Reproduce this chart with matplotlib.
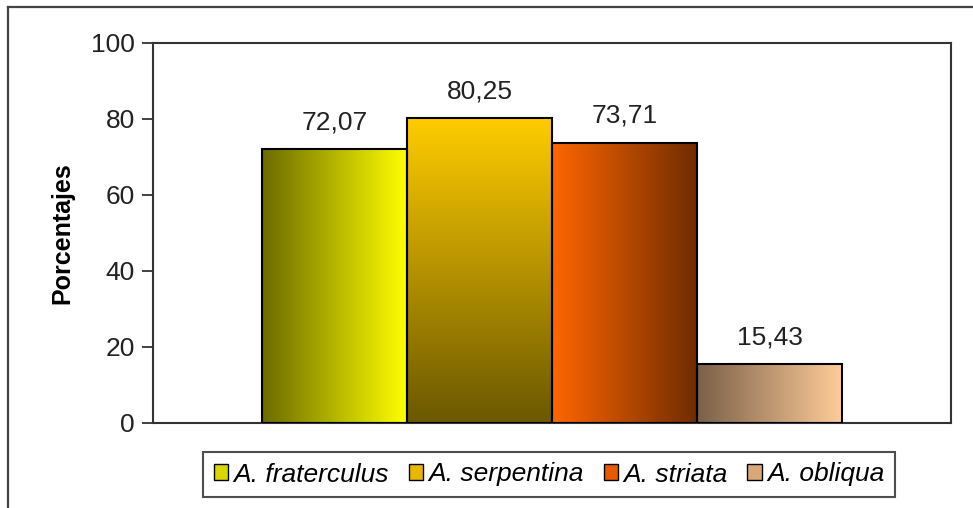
import numpy as np
import matplotlib
matplotlib.use("Agg")
import matplotlib.pyplot as plt
from matplotlib.patches import Rectangle, Patch
from matplotlib.colors import LinearSegmentedColormap
from matplotlib.lines import Line2D

plt.rcParams['font.family'] = ['Liberation Sans', 'DejaVu Sans']

species = ["A. fraterculus", "A. serpentina", "A. striata", "A. obliqua"]
values = [72.07, 80.25, 73.71, 15.43]
labels = ["72,07", "80,25", "73,71", "15,43"]
yticks = [0, 20, 40, 60, 80, 100]

# gradient specs: (start color, end color, direction)
grads = [("#6b6b00", "#ffff00", "h"),
         ("#ffcc00", "#6b5800", "v"),
         ("#ff6600", "#702c00", "h"),
         ("#7a6048", "#ffcc99", "h")]
legend_colors = ["#d8d800", "#e8b800", "#e85a00", "#d8a878"]

W, H = 973, 508
fig = plt.figure(figsize=(W / 100, H / 100), dpi=100)
ax = fig.add_axes([153 / W, (H - 423) / H, 798 / W, 380 / H])

ax.set_xlim(0, 1)
ax.set_ylim(0, 100)
w = 145 / 798
left0 = 0.5 - 2 * w

for i, (v, lab, g) in enumerate(zip(values, labels, grads)):
    x0 = left0 + i * w
    c0, c1, d = g
    cmap = LinearSegmentedColormap.from_list(f"g{i}", [c0, c1])
    grad = np.linspace(0, 1, 256)
    if d == "h":
        img = grad[np.newaxis, :]
        origin = "lower"
    else:
        img = grad[:, np.newaxis]
        origin = "upper"
    im = ax.imshow(img, cmap=cmap, aspect="auto", extent=[x0, x0 + w, 0, v],
                   origin=origin, zorder=2, interpolation="bilinear")
    rect = Rectangle((x0, 0), w, v, facecolor="none", edgecolor="black",
                     linewidth=1.5, zorder=3)
    ax.add_patch(rect)
    im.set_clip_path(rect)
    ax.annotate(lab, xy=(x0 + w / 2, v), xytext=(0, 27), textcoords="offset pixels",
                ha="center", va="center", fontsize=19, color="#222222")

ax.set_xlim(0, 1)
ax.set_ylim(0, 100)
ax.set_xticks([])
ax.set_yticks(yticks)
ax.set_yticklabels([str(t) for t in yticks], fontsize=19, color="#222222")
ax.tick_params(axis="y", direction="out", length=8, width=1.3, color="#333333", pad=5)
for s in ax.spines.values():
    s.set_color("#333333")
    s.set_linewidth(1.5)
ax.set_ylabel("Porcentajes", fontsize=18, fontweight="bold", labelpad=12)

# outer chart frame (top and left edges visible)
fig.add_artist(Line2D([8 / W, 1.0], [1 - 7 / H, 1 - 7 / H], color="#444444", lw=1.6,
                      transform=fig.transFigure))
fig.add_artist(Line2D([8 / W, 8 / W], [0, 1 - 7 / H], color="#444444", lw=1.6,
                      transform=fig.transFigure))

handles = [Patch(facecolor=c, edgecolor="black", linewidth=1.0) for c in legend_colors]
leg = fig.legend(handles, species, loc="center", bbox_to_anchor=(549 / W, 1 - 474.5 / H),
                 ncol=4, frameon=True, fancybox=False, prop={"style": "italic", "size": 19},
                 handlelength=0.55, handleheight=0.55, handletextpad=0.2, columnspacing=0.75,
                 borderpad=0.4, borderaxespad=0)
leg.get_frame().set_edgecolor("#222222")
leg.get_frame().set_linewidth(1.5)

fig.savefig("out.png", dpi=100)
